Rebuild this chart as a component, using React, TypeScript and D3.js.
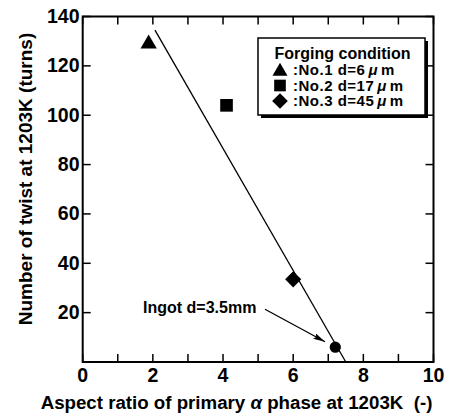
import React from "react";
import * as d3 from "d3";

const W = 453;
const H = 416;
const plot = { left: 82.7, right: 433.5, top: 16.5, bottom: 362 };
const font = "'Liberation Sans', Arial, Helvetica, sans-serif";

// data
const groups = ["No.1", "No.2", "No.3", "Ingot"];
const grainSize = ["d=6", "d=17", "d=45", "d=3.5mm"];
const aspectRatio = [1.88, 4.1, 6.0, 7.2];
const twistTurns = [129.5, 104, 33.5, 6];
const shapes = ["triangle", "square", "diamond", "circle"];
const fitX = [2.06, 7.5];
const fitY = [134.5, 0];
const xTicks = [0, 2, 4, 6, 8, 10];
const xMinor = [1, 3, 5, 7, 9];
const yTicks = [20, 40, 60, 80, 100, 120, 140];

const x = d3.scaleLinear().domain([0, 10]).range([plot.left, plot.right]);
const y = d3.scaleLinear().domain([0, 140]).range([plot.bottom, plot.top]);

// square rotated 45deg, like the printed marker
const diamondType = {
  draw(ctx: any, size: number) {
    const r = Math.sqrt(size / 2);
    ctx.moveTo(0, -r);
    ctx.lineTo(r, 0);
    ctx.lineTo(0, r);
    ctx.lineTo(-r, 0);
    ctx.closePath();
  },
};

const symbolFor = (s: string, size: number) => {
  const type: any =
    s === "triangle" ? d3.symbolTriangle
    : s === "square" ? d3.symbolSquare
    : s === "diamond" ? diamondType
    : d3.symbolCircle;
  return d3.symbol().type(type).size(size)() || "";
};

const sizes: Record<string, number> = { triangle: 115, square: 160, diamond: 130, circle: 100 };

const Marker = ({ shape, cx, cy, scale = 1 }: { shape: string; cx: number; cy: number; scale?: number }) => {
  const path = symbolFor(shape, sizes[shape] * scale);
  const dy = shape === "triangle" ? 1.5 : 0;
  return <path d={path} transform={`translate(${cx},${cy + dy})`} fill="#000" />;
};

export default function App() {
  const line = d3.line<number>().x((d) => x(d)).y((_, i) => y(fitY[i]));
  const tick = 8;
  const legendX = 258;
  const legendY = 38;
  const legendW = 167;
  const legendH = 77;
  const rowGap = 15.5;
  return (
    <svg
      width={W}
      height={H}
      style={{ position: "absolute", left: 0, top: 0, background: "#fff" }}
      fontFamily={font}
      fontWeight="bold"
    >
      <defs>
        <marker id="arrow" viewBox="0 0 12 6" refX="12" refY="3" markerWidth="12" markerHeight="6" orient="auto" markerUnits="userSpaceOnUse">
          <path d="M0,0 L12,3 L0,6 L2,3 Z" fill="#000" />
        </marker>
      </defs>
      {/* frame */}
      <rect x={plot.left} y={plot.top} width={plot.right - plot.left} height={plot.bottom - plot.top} fill="none" stroke="#000" strokeWidth={2} />

      {/* x ticks bottom & top */}
      {[...xTicks, ...xMinor].map((t) => (
        <g key={"xt" + t}>
          <line x1={x(t)} x2={x(t)} y1={plot.bottom} y2={plot.bottom - tick} stroke="#000" strokeWidth={1.5} />
          <line x1={x(t)} x2={x(t)} y1={plot.top} y2={plot.top + tick} stroke="#000" strokeWidth={1.5} />
        </g>
      ))}
      {xTicks.map((t) => (
        <text key={"xl" + t} x={x(t)} y={382} textAnchor="middle" fontSize={19.5}>
          {t}
        </text>
      ))}

      {/* y ticks left & right */}
      {yTicks.map((t) => (
        <g key={"yt" + t}>
          <line x1={plot.left} x2={plot.left + tick} y1={y(t)} y2={y(t)} stroke="#000" strokeWidth={1.5} />
          <line x1={plot.right} x2={plot.right - tick} y1={y(t)} y2={y(t)} stroke="#000" strokeWidth={1.5} />
          <text x={79.5} y={y(t) + 6.5} textAnchor="end" fontSize={19.5}>
            {t}
          </text>
        </g>
      ))}

      {/* axis titles */}
      <text x={236.5} y={408.5} textAnchor="middle" fontSize={18.7}>
        Aspect ratio of primary <tspan fontStyle="italic">α</tspan> phase at 1203K{"\u00a0\u00a0"}(-)
      </text>
      <text transform="translate(32,179) rotate(-90)" textAnchor="middle" fontSize={19}>
        Number of twist at 1203K (turns)
      </text>

      {/* fit line */}
      <path d={line(fitX) || ""} fill="none" stroke="#000" strokeWidth={1.3} />

      {/* data points */}
      {aspectRatio.map((a, i) => (
        <Marker key={groups[i]} shape={shapes[i]} cx={x(a)} cy={y(twistTurns[i])} />
      ))}

      {/* annotation */}
      <text x={143} y={312.5} fontSize={16}>
        Ingot {grainSize[3]}
      </text>
      <line x1={265} y1={309.3} x2={325} y2={341.7} stroke="#000" strokeWidth={1.3} markerEnd="url(#arrow)" />

      {/* legend */}
      <rect x={legendX + 3} y={legendY + 3} width={legendW} height={legendH} fill="#000" />
      <rect x={legendX} y={legendY} width={legendW} height={legendH} fill="#fff" stroke="#000" strokeWidth={1.5} />
      <text x={342.5} y={58.5} textAnchor="middle" fontSize={16}>
        Forging condition
      </text>
      {[0, 1, 2].map((i) => (
        <g key={"lg" + i}>
          <Marker shape={shapes[i]} cx={280} cy={70 + i * rowGap} scale={i === 2 ? 0.95 : 0.85} />
          <text x={293} y={75 + i * rowGap} fontSize={15} letterSpacing={0.5}>
            :{groups[i]} {grainSize[i]}
            <tspan dx={3} fontStyle="italic">μ</tspan>
            <tspan dx={3}>m</tspan>
          </text>
        </g>
      ))}
    </svg>
  );
}
